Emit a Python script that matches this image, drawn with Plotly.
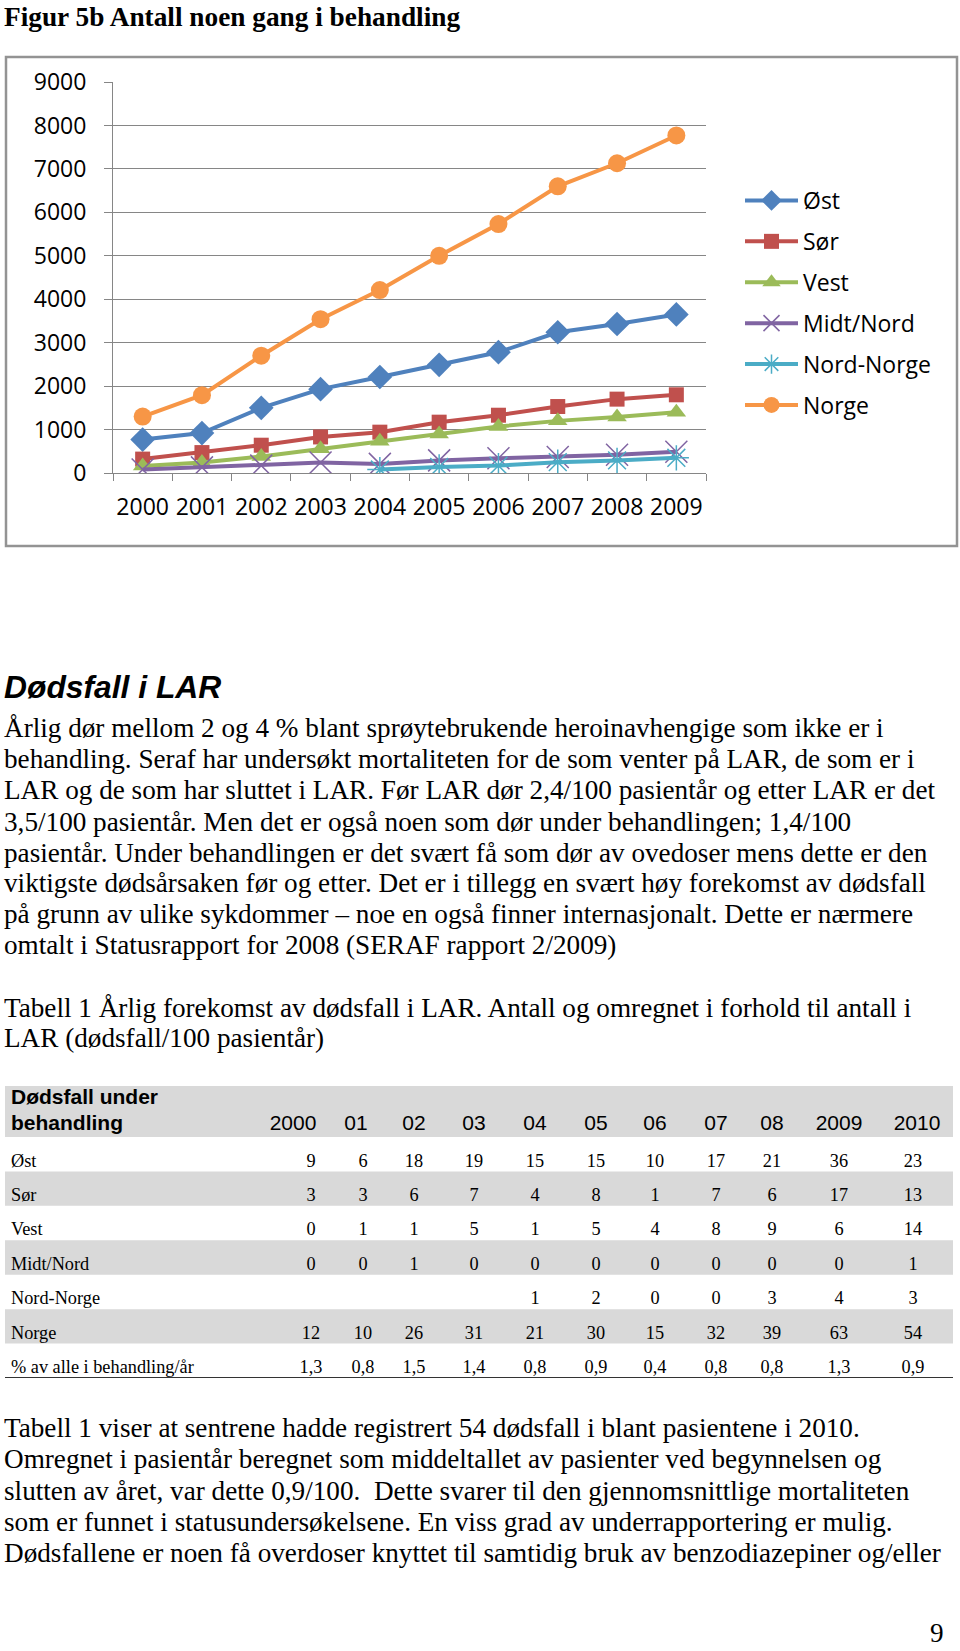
import plotly.graph_objects as go

W, H = 960, 1651

# ---------------- chart data ----------------
years = ['2000', '2001', '2002', '2003', '2004', '2005', '2006', '2007', '2008', '2009']
series_names = ['Øst', 'Sør', 'Vest', 'Midt/Nord', 'Nord-Norge', 'Norge']
ost = [770, 920, 1500, 1930, 2210, 2490, 2780, 3240, 3430, 3650]
sor = [320, 470, 640, 830, 940, 1170, 1330, 1530, 1700, 1800]
vest = [160, 240, 380, 560, 730, 900, 1070, 1200, 1290, 1400]
midt_nord = [80, 130, 170, 240, 210, 290, 340, 370, 420, 490]
nord_norge = [None, None, None, None, 80, 140, 170, 250, 290, 350]
norge = [1300, 1790, 2700, 3540, 4210, 5000, 5730, 6600, 7130, 7770]
y_ticks = [0, 1000, 2000, 3000, 4000, 5000, 6000, 7000, 8000, 9000]

# ---------------- table data ----------------
table_header_label = ['Dødsfall under', 'behandling']
table_years = ['2000', '01', '02', '03', '04', '05', '06', '07', '08', '2009', '2010']
table_rows = ['Øst', 'Sør', 'Vest', 'Midt/Nord', 'Nord-Norge', 'Norge', '% av alle i behandling/år']
t_ost = ['9', '6', '18', '19', '15', '15', '10', '17', '21', '36', '23']
t_sor = ['3', '3', '6', '7', '4', '8', '1', '7', '6', '17', '13']
t_vest = ['0', '1', '1', '5', '1', '5', '4', '8', '9', '6', '14']
t_midt = ['0', '0', '1', '0', '0', '0', '0', '0', '0', '0', '1']
t_nordnorge = ['', '', '', '', '1', '2', '0', '0', '3', '4', '3']
t_norge = ['12', '10', '26', '31', '21', '30', '15', '32', '39', '63', '54']
t_pct = ['1,3', '0,8', '1,5', '1,4', '0,8', '0,9', '0,4', '0,8', '0,8', '1,3', '0,9']
table_values = [t_ost, t_sor, t_vest, t_midt, t_nordnorge, t_norge, t_pct]

# ---------------- text ----------------
title = 'Figur 5b Antall noen gang i behandling'
heading = 'Dødsfall i LAR'
para1 = [
    'Årlig dør mellom 2 og 4 % blant sprøytebrukende heroinavhengige som ikke er i',
    'behandling. Seraf har undersøkt mortaliteten for de som venter på LAR, de som er i',
    'LAR og de som har sluttet i LAR. Før LAR dør 2,4/100 pasientår og etter LAR er det',
    '3,5/100 pasientår. Men det er også noen som dør under behandlingen; 1,4/100',
    'pasientår. Under behandlingen er det svært få som dør av ovedoser mens dette er den',
    'viktigste dødsårsaken før og etter. Det er i tillegg en svært høy forekomst av dødsfall',
    'på grunn av ulike sykdommer – noe en også finner internasjonalt. Dette er nærmere',
    'omtalt i Statusrapport for 2008 (SERAF rapport 2/2009)',
]
caption = [
    'Tabell 1 Årlig forekomst av dødsfall i LAR. Antall og omregnet i forhold til antall i',
    'LAR (dødsfall/100 pasientår)',
]
para2 = [
    'Tabell 1 viser at sentrene hadde registrert 54 dødsfall i blant pasientene i 2010.',
    'Omregnet i pasientår beregnet som middeltallet av pasienter ved begynnelsen og',
    'slutten av året, var dette 0,9/100.  Dette svarer til den gjennomsnittlige mortaliteten',
    'som er funnet i statusundersøkelsene. En viss grad av underrapportering er mulig.',
    'Dødsfallene er noen få overdoser knyttet til samtidig bruk av benzodiazepiner og/eller',
]
page_no = '9'

# ---------------- styles / layout constants ----------------
colors = ['#4F81BD', '#C0504D', '#9BBB59', '#8064A2', '#4BACC6', '#F79646']
symbols = ['diamond', 'square', 'triangle-up', 'x-thin-open', 'asterisk-open', 'circle']
msizes = [19, 15, 17, 22, 21, 18]
series_vals = [ost, sor, vest, midt_nord, nord_norge, norge]

CHART_FONT = 'Open Sans'
SERIF = 'Liberation Serif'
SANS = 'Liberation Sans'
BODY_SIZE = 27.2

# table geometry (pixels, page coordinates)
TBL_TOP, TBL_BOTTOM, TBL_LEFT, TBL_RIGHT = 1086, 1378, 5, 953
HEADER_H = 51
ROW_H = (TBL_BOTTOM - TBL_TOP - HEADER_H) / len(table_rows)
value_x = [311, 363, 414, 474, 535, 596, 655, 716, 772, 839, 913]
header_x = [293, 356, 414, 474, 535, 596, 655, 716, 772, 839, 917]
label_x = 11
TEXT_OFFSET = 25  # text centre below band top


def px(x):
    return x / W


def py(y):
    return 1 - y / H


fig = go.Figure()

for i, (name, vals) in enumerate(zip(series_names, series_vals)):
    if symbols[i] in ('x-thin-open', 'asterisk-open'):
        marker = dict(symbol=symbols[i], size=msizes[i], color=colors[i],
                      line=dict(color=colors[i], width=1.5))
    else:
        marker = dict(symbol=symbols[i], size=msizes[i], color=colors[i],
                      line=dict(width=0))
    fig.add_trace(go.Scatter(
        x=years, y=vals, name=name, mode='lines+markers',
        line=dict(color=colors[i], width=4),
        marker=marker, legendgroup=name, connectgaps=False,
    ))

# ---------------- table drawn on its own pixel axes ----------------
tbl_axes = dict(xaxis='x2', yaxis='y2', showlegend=False, hoverinfo='skip', mode='text')
row_tops = [TBL_TOP + HEADER_H + ROW_H * r for r in range(len(table_rows))]

fig.add_trace(go.Scatter(
    x=[label_x, label_x], y=[1099, 1125],
    text=['<b>' + s + '</b>' for s in table_header_label], textposition='middle right',
    textfont=dict(family=SANS, size=21, color='black'), **tbl_axes))
fig.add_trace(go.Scatter(
    x=header_x, y=[1125] * len(table_years), text=table_years, textposition='middle center',
    textfont=dict(family=SANS, size=21, color='black'), **tbl_axes))
fig.add_trace(go.Scatter(
    x=[label_x] * len(table_rows), y=[t + TEXT_OFFSET for t in row_tops], text=table_rows,
    textposition='middle right', textfont=dict(family=SERIF, size=18.3, color='black'), **tbl_axes))
for r, vals in enumerate(table_values):
    fig.add_trace(go.Scatter(
        x=value_x, y=[row_tops[r] + TEXT_OFFSET] * len(vals), text=vals,
        textposition='middle center', textfont=dict(family=SERIF, size=18.3, color='black'),
        **tbl_axes))

shapes = [
    dict(type='rect', xref='paper', yref='paper', x0=px(6), x1=px(957), y0=py(546), y1=py(57),
         line=dict(color='#939393', width=2.5), fillcolor='rgba(0,0,0,0)', layer='below'),
    dict(type='rect', xref='x2', yref='y2', x0=TBL_LEFT, x1=TBL_RIGHT, y0=TBL_TOP, y1=TBL_TOP + HEADER_H,
         line=dict(width=0), fillcolor='#D9D9D9', layer='below'),
    dict(type='line', xref='x2', yref='y2', x0=TBL_LEFT, x1=TBL_RIGHT, y0=TBL_BOTTOM, y1=TBL_BOTTOM,
         line=dict(color='#333333', width=2)),
]
for r in range(1, len(table_rows), 2):
    shapes.append(dict(type='rect', xref='x2', yref='y2', x0=TBL_LEFT, x1=TBL_RIGHT,
                       y0=row_tops[r], y1=row_tops[r] + ROW_H,
                       line=dict(width=0), fillcolor='#D9D9D9', layer='below'))

annotations = []


def add_text(txt, x, y, size, family, bold=False, italic=False, xanchor='left'):
    t = txt
    if bold:
        t = '<b>' + t + '</b>'
    if italic:
        t = '<i>' + t + '</i>'
    annotations.append(dict(
        text=t, x=px(x), y=py(y), xref='paper', yref='paper',
        xanchor=xanchor, yanchor='middle', showarrow=False,
        font=dict(family=family, size=size, color='black'),
    ))


add_text(title, 2, 17, 27.3, SERIF, bold=True)
add_text(heading, 2, 687, 31.8, SANS, bold=True, italic=True)
para1_y = [728, 759, 790, 822, 853, 883, 914, 945]
for line, yy in zip(para1, para1_y):
    add_text(line, 2, yy, BODY_SIZE, SERIF)
for line, yy in zip(caption, [1008, 1038]):
    add_text(line, 2, yy, BODY_SIZE, SERIF)
para2_y = [1428, 1459, 1491, 1522, 1553]
for line, yy in zip(para2, para2_y):
    add_text(line, 2, yy, BODY_SIZE, SERIF)
add_text(page_no, 946, 1633, BODY_SIZE, SERIF, xanchor='right')

fig.update_layout(
    width=W, height=H,
    margin=dict(l=0, r=0, t=0, b=0, pad=0, autoexpand=False),
    paper_bgcolor='white', plot_bgcolor='white',
    showlegend=True,
    legend=dict(
        x=px(740), y=py(179), xanchor='left', yanchor='top',
        font=dict(family=CHART_FONT, size=23, color='black'),
        itemwidth=53, tracegroupgap=8, bgcolor='rgba(0,0,0,0)',
    ),
    xaxis=dict(
        domain=[px(113), px(706)], type='category', categoryorder='array', categoryarray=years,
        range=[-0.5, 9.5], showgrid=False, showline=True, linecolor='#868686', linewidth=1,
        ticks='outside', tickson='boundaries', ticklen=7, tickcolor='#868686', tickangle=0,
        tickfont=dict(family=CHART_FONT, size=23, color='black'), ticklabelstandoff=13,
        fixedrange=True,
    ),
    yaxis=dict(
        domain=[py(473), py(82)], range=[0, 9000], tickvals=y_ticks,
        showgrid=True, gridcolor='#868686', gridwidth=1,
        showline=True, linecolor='#868686', linewidth=1,
        ticks='outside', ticklen=8, tickcolor='#868686', zeroline=False,
        tickfont=dict(family=CHART_FONT, size=23, color='black'), ticklabelstandoff=13,
        fixedrange=True,
    ),
    xaxis2=dict(domain=[0, 1], range=[0, W], visible=False, anchor='y2', fixedrange=True),
    yaxis2=dict(domain=[py(TBL_BOTTOM), py(TBL_TOP)], range=[TBL_BOTTOM, TBL_TOP],
                visible=False, anchor='x2', fixedrange=True),
    annotations=annotations,
    shapes=shapes,
)

fig.write_html(
    'out.html',
    config={'displayModeBar': False},
    post_script=(
        "var h=document.documentElement,b=document.body;"
        "h.style.margin='0';h.style.padding='0';h.style.overflow='hidden';"
        "b.style.margin='0';b.style.padding='0';b.style.overflow='hidden';"
        "var d=document.getElementById('{plot_id}');"
        "d.style.position='absolute';d.style.left='0';d.style.top='0';"
    ),
)
